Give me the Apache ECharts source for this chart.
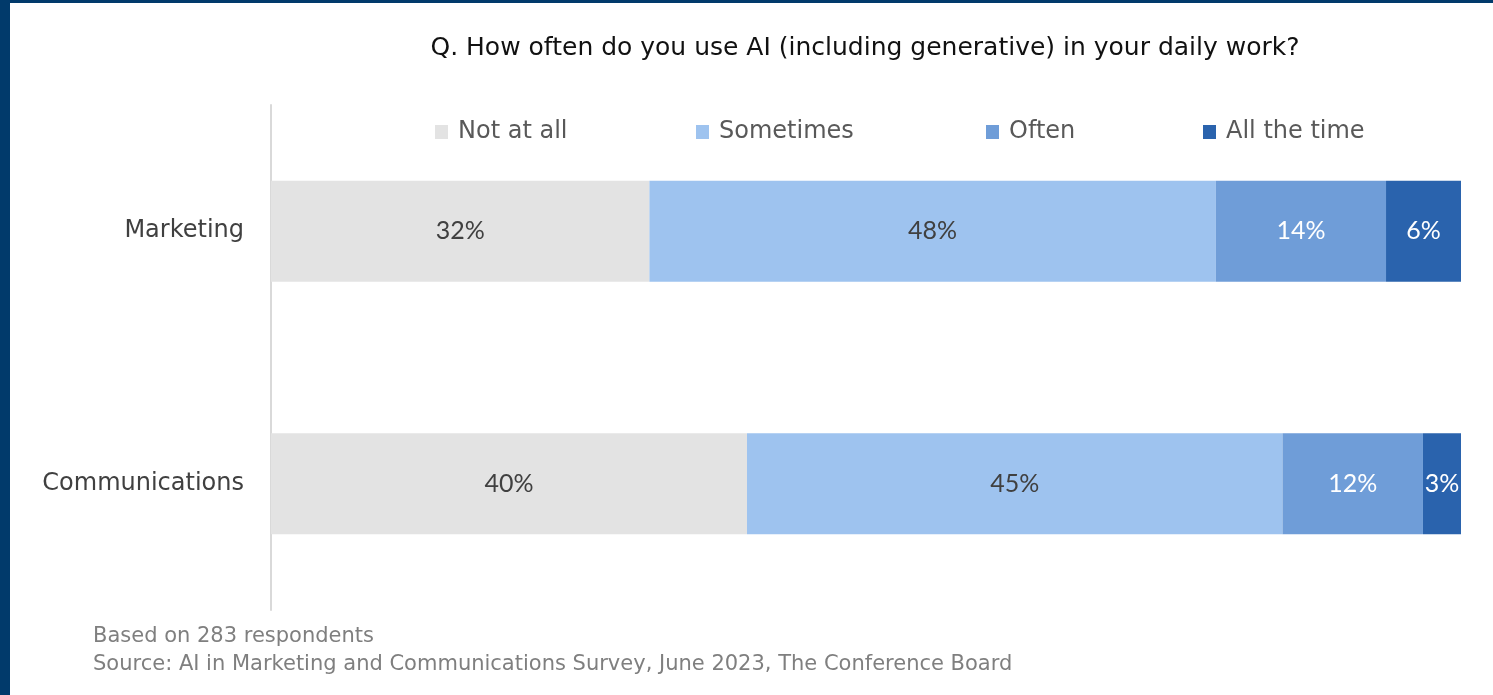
<!DOCTYPE html>
<html>
<head>
<meta charset="utf-8">
<script src="https://cdn.jsdelivr.net/npm/echarts@6/dist/echarts.min.js"></script>
<style>
html,body{margin:0;padding:0;background:#fff;}
#c{width:1493px;height:695px;}
</style>
</head>
<body>
<div id="c"></div>
<script>
const categories = ['Marketing', 'Communications'];
const seriesNames = ['Not at all', 'Sometimes', 'Often', 'All the time'];
const notAtAll = [31.8, 40.0];
const sometimes = [47.6, 45.0];
const often = [14.3, 11.8];
const allTheTime = [6.3, 3.2];
const colors = ['#e3e3e3', '#9ec3ef', '#6f9dd8', '#2a63ad'];
const labelColors = ['#404040', '#404040', '#ffffff', '#ffffff'];
const titleText = 'Q. How often do you use AI (including generative) in your daily work?';
const notes = ['Based on 283 respondents', 'Source: AI in Marketing and Communications Survey, June 2023, The Conference Board'];

const values = [notAtAll, sometimes, often, allTheTime];
const legendLeft = [435, 696, 986, 1203];
const FONT = '"DejaVu Sans", Verdana, sans-serif';
const chart = echarts.init(document.getElementById('c'));
chart.setOption({
  animation: false,
  backgroundColor: '#ffffff',
  title: {
    text: titleText,
    left: 865, top: 36, textAlign: 'center', padding: 0,
    textStyle: {fontFamily: FONT, fontSize: 25, fontWeight: 'normal', color: '#111'}
  },
  legend: seriesNames.map((n, i) => ({
    left: legendLeft[i], top: 120, padding: 0,
    itemWidth: 13, itemHeight: 14,
    icon: 'rect',
    data: [n],
    textStyle: {fontFamily: FONT, fontSize: 24, lineHeight: 24, color: '#595959', padding: [0, 0, 0, 5]}
  })),
  grid: {left: 271, right: 32, top: 105, bottom: 85, containLabel: false},
  xAxis: {type: 'value', min: 0, max: 100, show: false},
  yAxis: {
    type: 'category', data: categories, inverse: true,
    axisLine: {show: true, lineStyle: {color: '#d9d9d9', width: 2}},
    axisTick: {show: false},
    axisLabel: {fontFamily: FONT, fontSize: 24, color: '#404040', margin: 27}
  },
  series: seriesNames.map((n, i) => ({
    name: n, type: 'bar', stack: 'total', barWidth: '40%',
    data: values[i],
    itemStyle: {color: colors[i]},
    label: {
      show: true, position: 'inside',
      formatter: p => Math.round(p.value) + '%',
      fontFamily: 'Lato, "Open Sans", sans-serif', fontSize: 25, color: labelColors[i]
    }
  })),
  graphic: [
    {type: 'rect', left: 0, top: 0, shape: {width: 10, height: 695}, style: {fill: '#013a6b'}},
    {type: 'rect', left: 0, top: 0, shape: {width: 1493, height: 3}, style: {fill: '#013a6b'}},
    {type: 'text', left: 93, top: 626, style: {text: notes[0], font: '21px "DejaVu Sans", Verdana, sans-serif', fill: '#7f7f7f'}},
    {type: 'text', left: 93, top: 654, style: {text: notes[1], font: '21px "DejaVu Sans", Verdana, sans-serif', fill: '#7f7f7f'}}
  ]
});
</script>
</body>
</html>
